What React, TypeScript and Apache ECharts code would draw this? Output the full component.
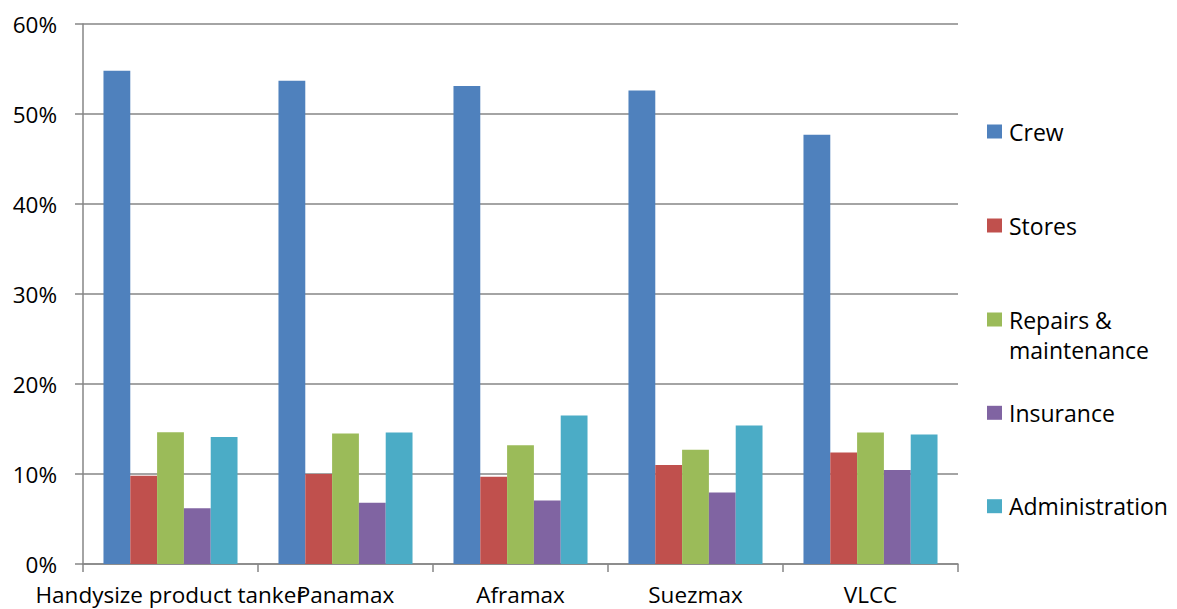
import React, { useEffect, useRef } from "react";
import * as echarts from "echarts";

const categories = ["Handysize product tanker", "Panamax", "Aframax", "Suezmax", "VLCC"];
const seriesNames = ["Crew", "Stores", "Repairs & maintenance", "Insurance", "Administration"];
const crew = [54.8, 53.7, 53.1, 52.6, 47.7];
const stores = [9.8, 10.0, 9.7, 11.0, 12.4];
const repairs = [14.65, 14.5, 13.2, 12.7, 14.6];
const insurance = [6.2, 6.8, 7.05, 7.95, 10.45];
const administration = [14.1, 14.6, 16.5, 15.4, 14.4];
const yTicks = [0, 10, 20, 30, 40, 50, 60];
const colors = ["#4F81BD", "#C0504D", "#9BBB59", "#8064A2", "#4BACC6"];

const seriesData = [crew, stores, repairs, insurance, administration];

export default function App() {
  const ref = useRef<HTMLDivElement>(null);
  useEffect(() => {
    document.body.style.margin = "0";
    const chart = echarts.init(ref.current!, undefined, { renderer: "svg" });
    const font = "'Open Sans', sans-serif";
    const legendCenters = [131.5, 225.5, 319.5, 412.8, 506.2];
    const legends = seriesNames.map((name, i) => {
      const twoLine = name === "Repairs & maintenance";
      return {
        show: true,
        orient: "vertical",
        left: 987,
        top: legendCenters[i] - 15,
        padding: 0,
        itemWidth: 15,
        itemHeight: twoLine ? 44 : 14,
        itemGap: 0,
        selectedMode: false,
        icon: twoLine ? "path://M0,0H15V14H0Z M0,44H15" : "rect",
        data: [name],
        formatter: (n: string) => (n === "Repairs & maintenance" ? "Repairs &\nmaintenance" : n),
        textStyle: {
          fontFamily: font,
          fontSize: 23,
          color: "#000",
          lineHeight: 30,
          padding: [0, 0, 0, 2],
        },
      };
    });
    chart.setOption({
      animation: false,
      backgroundColor: "#fff",
      grid: { left: 83, right: 219, top: 24, bottom: 45, containLabel: false },
      legend: legends,
      xAxis: {
        type: "category",
        data: categories,
        axisLine: { lineStyle: { color: "#868686", width: 1.5 } },
        axisTick: { show: true, length: 8, lineStyle: { color: "#868686", width: 1.5 } },
        axisLabel: { fontFamily: font, fontSize: 22.5, color: "#000", margin: 19, interval: 0 },
      },
      yAxis: {
        type: "value",
        min: 0,
        max: 60,
        interval: 10,
        axisLine: { show: true, lineStyle: { color: "#868686", width: 1.5 } },
        axisTick: { show: true, length: 8, lineStyle: { color: "#868686", width: 1.5 } },
        splitLine: { show: true, lineStyle: { color: "#868686", width: 1.5 } },
        axisLabel: {
          fontFamily: font,
          fontSize: 22.5,
          color: "#000",
          margin: 26,
          formatter: (v: number) => (yTicks.includes(v) ? v + "%" : ""),
        },
      },
      series: seriesNames.map((name, i) => ({
        name,
        type: "bar",
        data: seriesData[i],
        barGap: "0%",
        barCategoryGap: "23.4%",
        itemStyle: { color: colors[i] },
      })),
    });
    return () => chart.dispose();
  }, []);
  return <div ref={ref} style={{ width: 1177, height: 609 }} />;
}
